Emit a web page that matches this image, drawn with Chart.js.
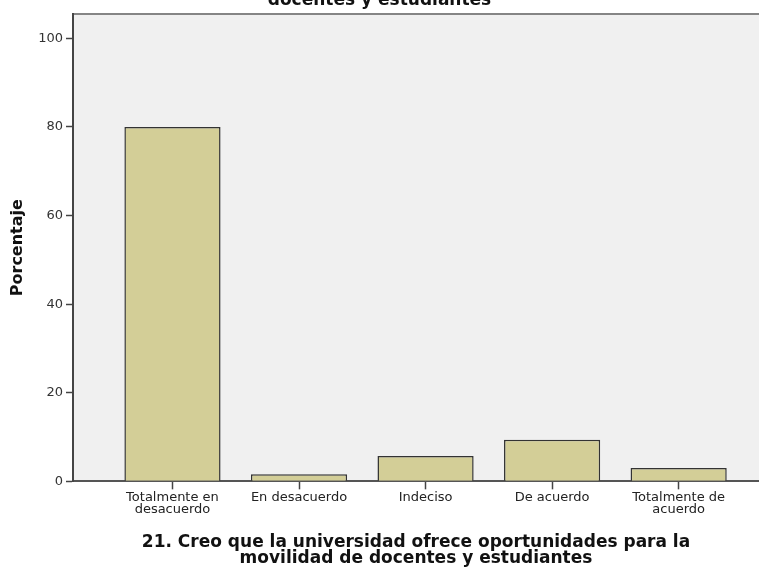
<!DOCTYPE html>
<html>
<head>
<meta charset="utf-8">
<script src="https://cdn.jsdelivr.net/npm/chart.js@4.4.0/dist/chart.umd.min.js"></script>
<style>
html, body { margin: 0; padding: 0; background: #fff; }
#frame { position: relative; width: 759px; height: 569px; overflow: hidden; }
#box { position: absolute; left: 0; top: -10px; width: 759px; height: 579px; }
</style>
</head>
<body>
<div id="frame"><div id="box"><canvas id="chart"></canvas></div></div>
<script>
// datos
const categorias = [
    ["Totalmente en", "desacuerdo"],
    ["En desacuerdo"],
    ["Indeciso"],
    ["De acuerdo"],
    ["Totalmente de", "acuerdo"]
];
const porcentajes = [80.0, 1.6, 5.7, 9.4, 3.0];
const yTicks = [0, 20, 40, 60, 80, 100];
const tituloX = ["21. Creo que la universidad ofrece oportunidades para la", "movilidad de docentes y estudiantes"];

Chart.defaults.font.family = "'DejaVu Sans', sans-serif";

// fondo gris del area de trazado y borde superior
const fondo = {
    id: "fondo",
    beforeDraw(chart) {
        const ctx = chart.ctx, a = chart.chartArea;
        ctx.save();
        ctx.fillStyle = "#f0f0f0";
        ctx.fillRect(a.left, a.top, a.right - a.left + 5, a.bottom - a.top);
        ctx.strokeStyle = "#858585";
        ctx.lineWidth = 2;
        ctx.beginPath();
        ctx.moveTo(a.left, a.top);
        ctx.lineTo(a.right + 5, a.top);
        ctx.stroke();
        ctx.restore();
    }
};

new Chart(document.getElementById("chart"), {
    type: "bar",
    data: {
        datasets: [
            {
                data: porcentajes.map((v, i) => ({x: i, y: v})),
                backgroundColor: "#d3ce97",
                borderColor: "#333",
                borderWidth: 1.5,
                categoryPercentage: 1,
                barPercentage: 0.76
            }
        ]
    },
    options: {
        responsive: true,
        maintainAspectRatio: false,
        animation: false,
        layout: {
            padding: {left: 0, right: 0, top: 0, bottom: 1}
        },
        plugins: {
            legend: {display: false},
            tooltip: {enabled: false},
            title: {
                display: true,
                text: "docentes y estudiantes",
                color: "#111",
                font: {size: 17, weight: "bold"},
                padding: {top: 0, bottom: 3.6}
            }
        },
        scales: {
            x: {
                type: "linear",
                offset: false,
                min: -0.786,
                max: 4.635,
                afterBuildTicks: s => { s.ticks = categorias.map((c, i) => ({value: i})); },
                grid: {offset: false, drawOnChartArea: false, drawTicks: true, tickLength: 8, tickColor: "#444", tickWidth: 1.5},
                border: {color: "#555", width: 2},
                ticks: {
                    autoSkip: false,
                    maxRotation: 0,
                    padding: 2,
                    color: "#222",
                    font: {size: 13, lineHeight: 0.95},
                    callback: v => categorias[v]
                },
                title: {
                    display: true,
                    text: tituloX,
                    color: "#111",
                    font: {size: 17, weight: "bold", lineHeight: 0.94},
                    padding: {top: 17, bottom: 1}
                }
            },
            y: {
                min: 0,
                max: 105.5,
                afterBuildTicks: s => { s.ticks = yTicks.map(v => ({value: v})); },
                grid: {drawOnChartArea: false, tickLength: 7, tickColor: "#444", tickWidth: 1.5},
                border: {color: "#444", width: 2},
                ticks: {padding: 3, color: "#333", font: {size: 13}},
                title: {
                    display: true,
                    text: "Porcentaje",
                    color: "#111",
                    font: {size: 16, weight: "bold"},
                    padding: {top: 8, bottom: 8}
                }
            }
        }
    },
    plugins: [fondo]
});
</script>
</body>
</html>
